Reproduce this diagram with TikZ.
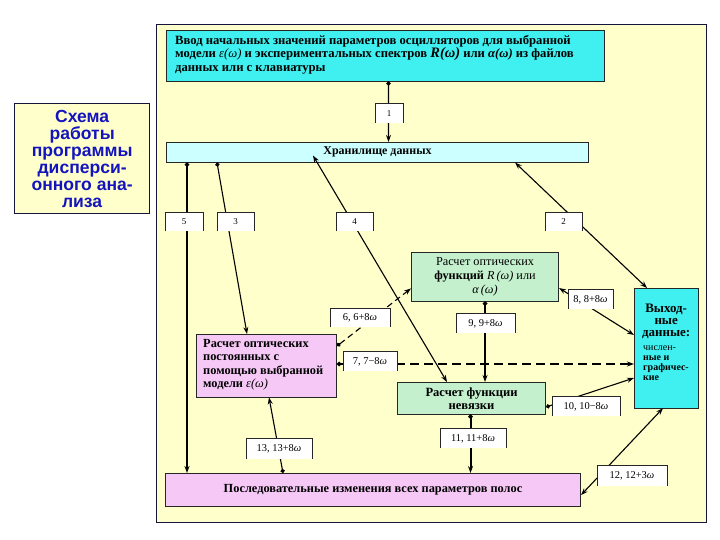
\documentclass[tikz,border=0pt]{standalone}
\usepackage{fontspec}
\setmainfont{Liberation Serif}
\newfontfamily\arialf{Liberation Sans}
\usetikzlibrary{arrows.meta,calc}
\definecolor{frameY}{RGB}{255,255,204}
\definecolor{cyanA}{RGB}{64,240,240}
\definecolor{cyanL}{RGB}{204,255,255}
\definecolor{greenL}{RGB}{196,240,206}
\definecolor{pinkL}{RGB}{246,200,246}
\definecolor{blueT}{RGB}{20,20,190}
\definecolor{frameB}{RGB}{20,20,60}
\begin{document}
\begin{tikzpicture}[x=1bp,y=-1bp,
  box/.style={draw=black!85, line width=0.6bp, inner sep=0pt, anchor=north west},
  btxt/.style={inner sep=0pt, font=\fontsize{12.4}{13.4}\selectfont\bfseries},
  lbl/.style={fill=white, inner sep=0pt, font=\fontsize{10.5}{12}\selectfont},
  lblsmall/.style={lbl, minimum width=37, minimum height=18, font=\fontsize{9}{10}\selectfont},
  lblside/.style={line width=0.7bp, black!85},
  conn/.style={line width=1.1bp},
  tip/.tip={Stealth[length=7bp,width=5bp]},
  dot/.tip={Circle[length=4.2bp]},
  arr/.style={conn,-tip},
  darr/.style={conn,tip-tip},
  dotarr/.style={conn,dot-tip},
  dashA/.style={dash pattern=on 6bp off 4bp},
  dashB/.style={line width=1.9bp, dash pattern=on 9bp off 5bp}]
\useasboundingbox (0,0) rectangle (720,540);
\fill[white] (0,0) rectangle (720,540);
% frame
\draw[frameB, line width=0.8bp, fill=frameY] (156,24) rectangle (706,522);
% left title box
\node[box, draw=frameB, line width=0.8bp, fill=frameY, minimum width=136, minimum height=110] (title) at (14,103) {};
\node[inner sep=0pt, align=center, text=blueT, font=\arialf\bfseries\fontsize{17.6}{17.1}\selectfont] (titleT) at ($(title.center)+(0,1)$)
  {Схема\\работы\\программы\\дисперси-\\онного ана-\\лиза};
% boxes
\node[box, fill=cyanA, minimum width=440, minimum height=51] (top) at (166,30) {};
\node[btxt, anchor=north west, align=left, font=\fontsize{12.7}{13.6}\selectfont\bfseries] (topT) at ($(top.north west)+(9,5)$)
  {Ввод начальных значений параметров осцилляторов для выбранной\\
   модели \textmd{\textit{ε(ω)}} и экспериментальных спектров {\fontsize{14.5}{14}\selectfont\textit{R(ω)}} или \textit{α(ω)} из файлов\\
   данных или с клавиатуры};
\node[box, fill=cyanL, minimum width=424, minimum height=20, btxt, font=\fontsize{12}{13}\selectfont\bfseries] (store) at (166,142) {Хранилище данных};
\node[box, fill=greenL, minimum width=148, minimum height=49, align=center, font=\fontsize{12.3}{14}\selectfont] (optf) at (411,252)
  {Расчет оптических\\ \textbf{функций} \textit{R\,(ω)} или\\ \textit{α\,(ω)}};
\node[box, fill=pinkL, minimum width=141, minimum height=63] (optc) at (196,334) {};
\node[btxt, anchor=west, align=left] (optcT) at ($(optc.west)+(7,-1)$)
  {Расчет оптических\\постоянных с\\помощью выбранной\\модели \textmd{\textit{ε(ω)}}};
\node[box, fill=greenL, minimum width=149, minimum height=32, align=center, btxt, font=\fontsize{12.6}{13}\selectfont\bfseries] (nev) at (397,382)
  {Расчет функции\\невязки};
\node[box, fill=cyanA, minimum width=64, minimum height=120] (outd) at (634,288) {};
\node[inner sep=0pt, anchor=north, align=center, font=\fontsize{13}{12}\selectfont\bfseries] (outT) at ($(outd.north)+(0,16)$)
  {Выход-\\ные\\данные:};
\node[inner sep=0pt, anchor=north west, align=left, font=\fontsize{10}{10}\selectfont\bfseries] (outS) at ($(outd.north west)+(9,58)$)
  {\textmd{числен-}\\ные и\\графичес-\\кие};
\node[box, fill=pinkL, minimum width=417, minimum height=33, btxt] (seq) at (165,473)
  {Последовательные изменения всех параметров полос};
% connectors
\draw[dotarr] ($(top.south)+(3,0)$) -- ($(store.north)+(11,0)$);
\draw[dotarr, line width=1.4bp] ($(store.south west)+(21,0)$) -- ($(seq.north west)+(22,0)$);
\draw[dotarr] ($(store.south west)+(51,0)$) -- ($(optc.north west)+(51,0)$);
\draw[darr] ($(store.south west)+(147,-7)$) -- ($(nev.north west)+(50,0)$);
\draw[darr] ($(store.south west)+(349,0)$) -- ($(outd.north west)+(13,0)$);
\draw[dotarr, dashA] ($(optc.north east)+(0,12)$) -- ($(optf.south west)+(0,-13)$);
\coordinate (p7) at ($(optc.north east)+(0,30)$);
\draw[dotarr, dashB] (p7) -- (p7 -| outd.west);
\draw[darr] ($(optf.north east)+(0,36)$) -- ($(outd.north west)+(0,47)$);
\draw[dotarr, line width=2bp] (optf.south) -- (optf.south |- nev.north);
\draw[dotarr] ($(nev.north east)+(0,25)$) -- ($(outd.north west)+(0,90)$);
\draw[dotarr, line width=2bp] ($(nev.south)+(-1,0)$) -- ($(nev.south |- seq.north)+(-1,0)$);
\draw[darr] ($(outd.south west)+(29,0)$) -- ($(seq.north east)+(0,22)$);
\draw[dotarr] ($(seq.north west)+(118,0)$) -- ($(optc.south west)+(73,0)$);
% labels
\node[lblsmall, minimum width=28, minimum height=19] (l1) at (389,113.5) {1};
\node[lblsmall, minimum width=38] (l5) at (184,222) {5};
\node[lblsmall] (l3) at (235.5,222) {3};
\node[lblsmall] (l4) at (354.5,222) {4};
\node[lblsmall] (l2) at (563.5,222) {2};
\node[lbl, minimum width=60, minimum height=18] (l6) at (360,318) {6, 6+8\textit{ω}};
\node[lbl, minimum width=54, minimum height=19] (l7) at (370,361.5) {7, 7−8\textit{ω}};
\node[lbl, minimum width=45, minimum height=19] (l8) at (590.5,299.5) {8, 8+8\textit{ω}};
\node[lbl, minimum width=59, minimum height=19] (l9) at (485.5,323.5) {9, 9+8\textit{ω}};
\node[lbl, minimum width=68, minimum height=19] (l10) at (586,406.5) {10, 10−8\textit{ω}};
\node[lbl, minimum width=66, minimum height=19] (l11) at (473,438.5) {11, 11+8\textit{ω}};
\node[lbl, minimum width=66, minimum height=20] (l13) at (279,449) {13, 13+8\textit{ω}};
\node[lbl, minimum width=70, minimum height=20] (l12) at (632,476) {12, 12+3\textit{ω}};
\foreach \n in {l1,l5,l3,l4,l2,l6,l7,l8,l9,l10,l11,l13,l12}
  \draw[lblside] (\n.south west) -- (\n.north west) -- (\n.north east) -- (\n.south east);
\end{tikzpicture}
\end{document}
